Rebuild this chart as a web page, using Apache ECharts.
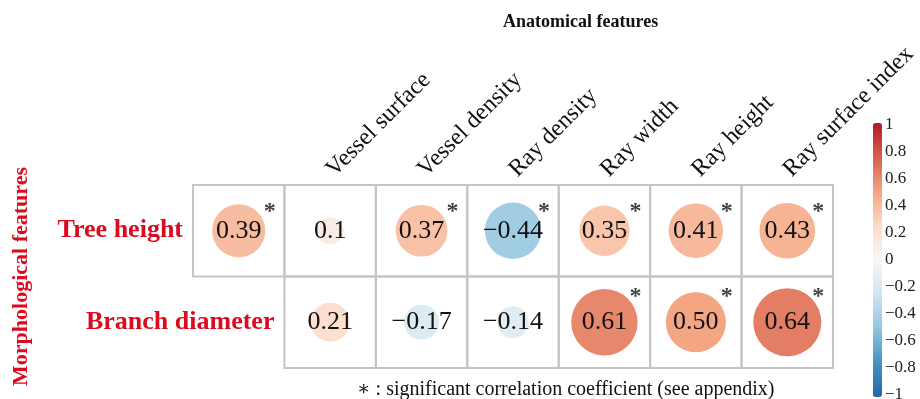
<!DOCTYPE html>
<html>
<head>
<meta charset="utf-8">
<script src="https://cdn.jsdelivr.net/npm/echarts@6/dist/echarts.min.js"></script>
<style>html,body{margin:0;padding:0;background:#fff}#c{width:920px;height:399px}</style>
</head>
<body>
<div id="c"></div>
<script>
// ---- data ----
const columns = ['', 'Vessel surface', 'Vessel density', 'Ray density', 'Ray width', 'Ray height', 'Ray surface index'];
const rows = ['Tree height', 'Branch diameter'];
const treeHeight = [0.39, 0.10, 0.37, -0.44, 0.35, 0.41, 0.43];
const branchDiameter = [null, 0.21, -0.17, -0.14, 0.61, 0.50, 0.64];
const treeHeightText = ['0.39', '0.1', '0.37', '\u22120.44', '0.35', '0.41', '0.43'];
const branchDiameterText = [null, '0.21', '\u22120.17', '\u22120.14', '0.61', '0.50', '0.64'];
const treeHeightSig = [1, 0, 1, 1, 1, 1, 1];
const branchDiameterSig = [0, 0, 0, 0, 1, 1, 1];
const colorbarMin = -1, colorbarMax = 1, colorbarStep = 0.2;
const rdbu = ['#2166ac', '#4393c3', '#92c5de', '#d1e5f0', '#f7f7f7', '#fddbc7', '#f4a582', '#d6604d', '#b2182b'];

const rowValues = [treeHeight, branchDiameter];
const rowTexts = [treeHeightText, branchDiameterText];
const rowSig = [treeHeightSig, branchDiameterSig];
const starOffsetY = [-19, -25];

const cells = [], circles = [], stars = [], rowLabelData = [];
rowValues.forEach((vals, r) => {
  let first = -1;
  vals.forEach((v, c) => {
    if (v === null) return;
    if (first < 0) first = c;
    cells.push([c, r]);
    circles.push([c, r, v, rowTexts[r][c]]);
    if (rowSig[r][c]) stars.push({value: [c, r], label: {offset: [31, starOffsetY[r]]}});
  });
  rowLabelData.push([first, r, rows[r]]);
});

const serif = '"Liberation Serif", "DejaVu Serif", serif';
const red = '#dc0a1e';

const chart = echarts.init(document.getElementById('c'), null, {renderer: 'canvas'});
chart.setOption({
  animation: false,
  backgroundColor: '#fff',
  title: [
    {text: 'Anatomical features', left: 498, top: 8,
     textStyle: {fontFamily: serif, fontWeight: 'bold', fontSize: 18, color: '#111'}},
    {text: '\u2217 : significant correlation coefficient (see appendix)', left: 352, top: 375,
     textStyle: {fontFamily: serif, fontWeight: 'normal', fontSize: 20, color: '#111'}}
  ],
  grid: [
    {left: 193, top: 185, width: 640, height: 183, outerBoundsMode: 'none', containLabel: false},
    {left: 873, top: 125, width: 9, height: 270, outerBoundsMode: 'none', containLabel: false}
  ],
  xAxis: [
    {gridIndex: 0, type: 'category', data: columns, position: 'top',
     axisLine: {show: false}, axisTick: {show: false}, splitLine: {show: false},
     axisLabel: {rotate: -45, margin: 12, fontFamily: serif, fontSize: 24, color: '#111'}},
    {gridIndex: 1, type: 'value', show: false}
  ],
  yAxis: [
    {gridIndex: 0, type: 'category', data: rows, inverse: true,
     axisLine: {show: false}, axisTick: {show: false}, axisLabel: {show: false}, splitLine: {show: false},
     name: 'Morphological features', nameLocation: 'middle', nameRotate: 90, nameGap: 161,
     nameTextStyle: {fontFamily: serif, fontWeight: 'bold', fontSize: 22, color: red}},
    {gridIndex: 1, type: 'value', min: colorbarMin, max: colorbarMax, interval: colorbarStep, position: 'right',
     axisLine: {show: true, lineStyle: {color: '#222', width: 1}},
     axisTick: {show: true, length: 3, lineStyle: {color: '#222'}},
     splitLine: {show: false},
     axisLabel: {margin: 3, fontFamily: serif, fontSize: 17, color: '#222',
       formatter: v => { const s = String(Math.round(v * 10) / 10); return s.replace('-', '\u2212'); }}},
    {gridIndex: 1, type: 'value', min: colorbarMin, max: colorbarMax, position: 'left',
     axisLine: {show: true, lineStyle: {color: '#222', width: 1}},
     axisTick: {show: false}, axisLabel: {show: false}, splitLine: {show: false}}
  ],
  visualMap: {
    type: 'continuous', min: colorbarMin, max: colorbarMax, dimension: 2, seriesIndex: 1,
    inRange: {color: rdbu}, calculable: false, orient: 'vertical',
    left: 873, top: 123, itemWidth: 9, itemHeight: 274, padding: 0, text: null, hoverLink: false
  },
  series: [
    {type: 'custom', xAxisIndex: 0, yAxisIndex: 0, data: cells, silent: true, z: 1,
     renderItem: (params, api) => {
       const p = api.coord([api.value(0), api.value(1)]);
       const s = api.size([1, 1]);
       return {type: 'rect', shape: {x: p[0] - s[0] / 2, y: p[1] - s[1] / 2, width: s[0], height: s[1]},
               style: {fill: null, stroke: '#c4c4c4', lineWidth: 2}};
     }},
    {type: 'scatter', xAxisIndex: 0, yAxisIndex: 0, data: circles, z: 2,
     symbol: 'circle', symbolSize: v => 85 * Math.sqrt(Math.abs(v[2])),
     itemStyle: {opacity: 1},
     label: {show: true, position: 'inside', formatter: p => p.data[3],
       fontFamily: serif, fontSize: 26, color: '#111'}},
    {type: 'scatter', xAxisIndex: 0, yAxisIndex: 0, data: stars, z: 3, symbol: 'circle', symbolSize: 1,
     itemStyle: {color: 'rgba(0,0,0,0)'},
     label: {show: true, position: 'inside', formatter: '*',
       fontFamily: serif, fontWeight: 'bold', fontSize: 24, color: '#111'}},
    {type: 'custom', xAxisIndex: 0, yAxisIndex: 0, data: rowLabelData, silent: true, z: 3,
     renderItem: (params, api) => {
       const p = api.coord([api.value(0), api.value(1)]);
       const s = api.size([1, 1]);
       return {type: 'text', x: p[0] - s[0] / 2 - 10, y: p[1],
               style: {text: rowLabelData[params.dataIndex][2], textAlign: 'right', textVerticalAlign: 'middle',
                       font: 'bold 26px ' + serif, fill: red}};
     }}
  ]
});
</script>
</body>
</html>
